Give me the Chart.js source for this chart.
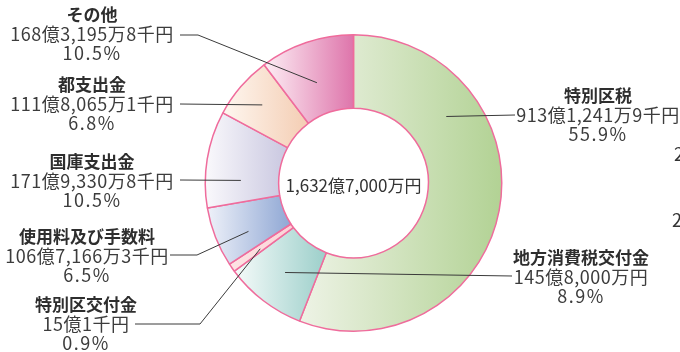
<!DOCTYPE html>
<html lang="ja">
<head>
<meta charset="UTF-8">
<title>歳入の内訳</title>
<style>
  body { margin: 0; background: #fff; overflow: hidden; }
  #wrap { width: 680px; height: 352px; position: relative; }
</style>
</head>
<body>
<div id="wrap"><canvas id="chart"></canvas></div>
<script src="https://cdn.jsdelivr.net/npm/chart.js"></script>
<script>
  // 単位: 億円
  const categories = ['特別区税', '地方消費税交付金', '特別区交付金', '使用料及び手数料', '国庫支出金', '都支出金', 'その他'];
  const amounts = [913.12419, 145.8, 15.00001, 106.71663, 171.93308, 111.80651, 168.31958];
  const amountLabels = ['913億1,241万9千円', '145億8,000万円', '15億1千円', '106億7,166万3千円', '171億9,330万8千円', '111億8,065万1千円', '168億3,195万8千円'];
  const percentLabels = ['55.9%', '8.9%', '0.9%', '6.5%', '10.5%', '6.8%', '10.5%'];
  const totalLabel = '1,632億7,000万円';

  const FONT = '"Noto Sans CJK JP", "Noto Sans", sans-serif';
  const colorsFrom = ['#eef3e6', '#f6fbfa', '#fde4e4', '#eef1f9', '#faf9fc', '#fef7f0', '#fdeff5'];
  const colorsTo = ['#b2d294', '#9ccfca', '#fbd3d7', '#8fa7d4', '#c9c7e0', '#f4cdb3', '#de75ab'];

  // where the leader line touches the slice: share of the slice sweep, share of outer radius
  const anchorAt = [0.27, 0.5, 0.4, 0.36, 0.29, 0.5, 0.46];
  const anchorR = [0.77, 0.76, 0.77, 0.78, 0.76, 0.81, 0.72];
  // label block centre / title baseline and the text-side points of the leader
  const labelPos = [
    {x: 598, y: 96, line: [[515, 115]]},
    {x: 581, y: 258, line: [[512, 276]]},
    {x: 86, y: 305, line: [[135, 324], [200, 324]]},
    {x: 87, y: 237, line: [[170, 255], [197, 255]]},
    {x: 92, y: 162, line: [[180, 180]]},
    {x: 92, y: 85, line: [[180, 104]]},
    {x: 92, y: 15, line: [[180, 35], [198, 35]]}
  ];

  const total = amounts.reduce((a, b) => a + b, 0);

  function sliceAngles(i) {
    let before = 0;
    for (let k = 0; k < i; k++) before += amounts[k];
    const a0 = -Math.PI / 2 + 2 * Math.PI * before / total;
    const a1 = a0 + 2 * Math.PI * amounts[i] / total;
    return [a0, a1];
  }

  function geometry(chart) {
    const area = chart.chartArea;
    const ctrl = chart.getDatasetMeta(0).controller;
    if (!area || !ctrl || !ctrl.outerRadius) return null;
    return {
      cx: (area.left + area.right) / 2 + (ctrl.offsetX || 0),
      cy: (area.top + area.bottom) / 2 + (ctrl.offsetY || 0),
      R: ctrl.outerRadius,
      r: ctrl.innerRadius
    };
  }

  function sliceGradient(context) {
    const i = context.dataIndex;
    const g = geometry(context.chart);
    if (!g) return colorsTo[i];
    const [a0, a1] = sliceAngles(i);
    const xs = [Math.cos(a0) * g.R, Math.cos(a1) * g.R, Math.cos(a0) * g.r, Math.cos(a1) * g.r];
    for (const t of [0, Math.PI, 2 * Math.PI]) {
      if (t >= a0 && t <= a1) xs.push(Math.cos(t) * g.R);
    }
    const grad = context.chart.ctx.createLinearGradient(g.cx + Math.min(...xs), 0, g.cx + Math.max(...xs), 0);
    grad.addColorStop(0, colorsFrom[i]);
    grad.addColorStop(1, colorsTo[i]);
    return grad;
  }

  const labelPlugin = {
    id: 'labels',
    afterDatasetsDraw(chart) {
      const g = geometry(chart);
      if (!g) return;
      const c = chart.ctx;
      c.save();
      // leader lines
      c.strokeStyle = '#3a3a3a';
      c.lineWidth = 1;
      categories.forEach((name, i) => {
        const [a0, a1] = sliceAngles(i);
        const a = a0 + (a1 - a0) * anchorAt[i];
        const ax = g.cx + Math.cos(a) * g.R * anchorR[i];
        const ay = g.cy + Math.sin(a) * g.R * anchorR[i];
        const pts = labelPos[i].line;
        c.beginPath();
        c.moveTo(pts[0][0], pts[0][1]);
        for (let k = 1; k < pts.length; k++) c.lineTo(pts[k][0], pts[k][1]);
        c.lineTo(ax, ay);
        c.stroke();
      });
      // texts
      c.textAlign = 'center';
      c.textBaseline = 'middle';
      categories.forEach((name, i) => {
        const p = labelPos[i];
        c.fillStyle = '#2e2e2e';
        c.font = 'bold 17px ' + FONT;
        c.letterSpacing = '0px';
        c.fillText(name, p.x, p.y);
        c.fillStyle = '#3c3c3c';
        c.font = '18px ' + FONT;
        c.letterSpacing = '0.5px';
        c.fillText(amountLabels[i], p.x, p.y + 19);
        c.letterSpacing = '1.5px';
        c.fillText(percentLabels[i], p.x, p.y + 38);
      });
      c.letterSpacing = '0px';
      c.font = '17px ' + FONT;
      c.fillStyle = '#333';
      c.fillText(totalLabel, g.cx, g.cy + 3);
      // fragments of a neighbouring figure cut off at the right edge
      c.textAlign = 'left';
      c.font = '18px ' + FONT;
      c.fillText('2', 674, 154);
      c.fillText('2', 672, 220);
      c.restore();
    }
  };

  new Chart(document.getElementById('chart'), {
    type: 'doughnut',
    data: {
      labels: categories,
      datasets: [{
        data: amounts,
        backgroundColor: sliceGradient,
        borderColor: '#ef6c9c',
        borderWidth: 1.5,
        hoverOffset: 0,
        offset: 0
      }]
    },
    options: {
      responsive: true,
      maintainAspectRatio: false,
      animation: false,
      cutout: '50.5%',
      layout: {padding: {top: 34, bottom: 20, left: 27, right: 0}},
      plugins: {
        legend: {display: false},
        tooltip: {enabled: false}
      }
    },
    plugins: [labelPlugin]
  });
</script>
</body>
</html>
